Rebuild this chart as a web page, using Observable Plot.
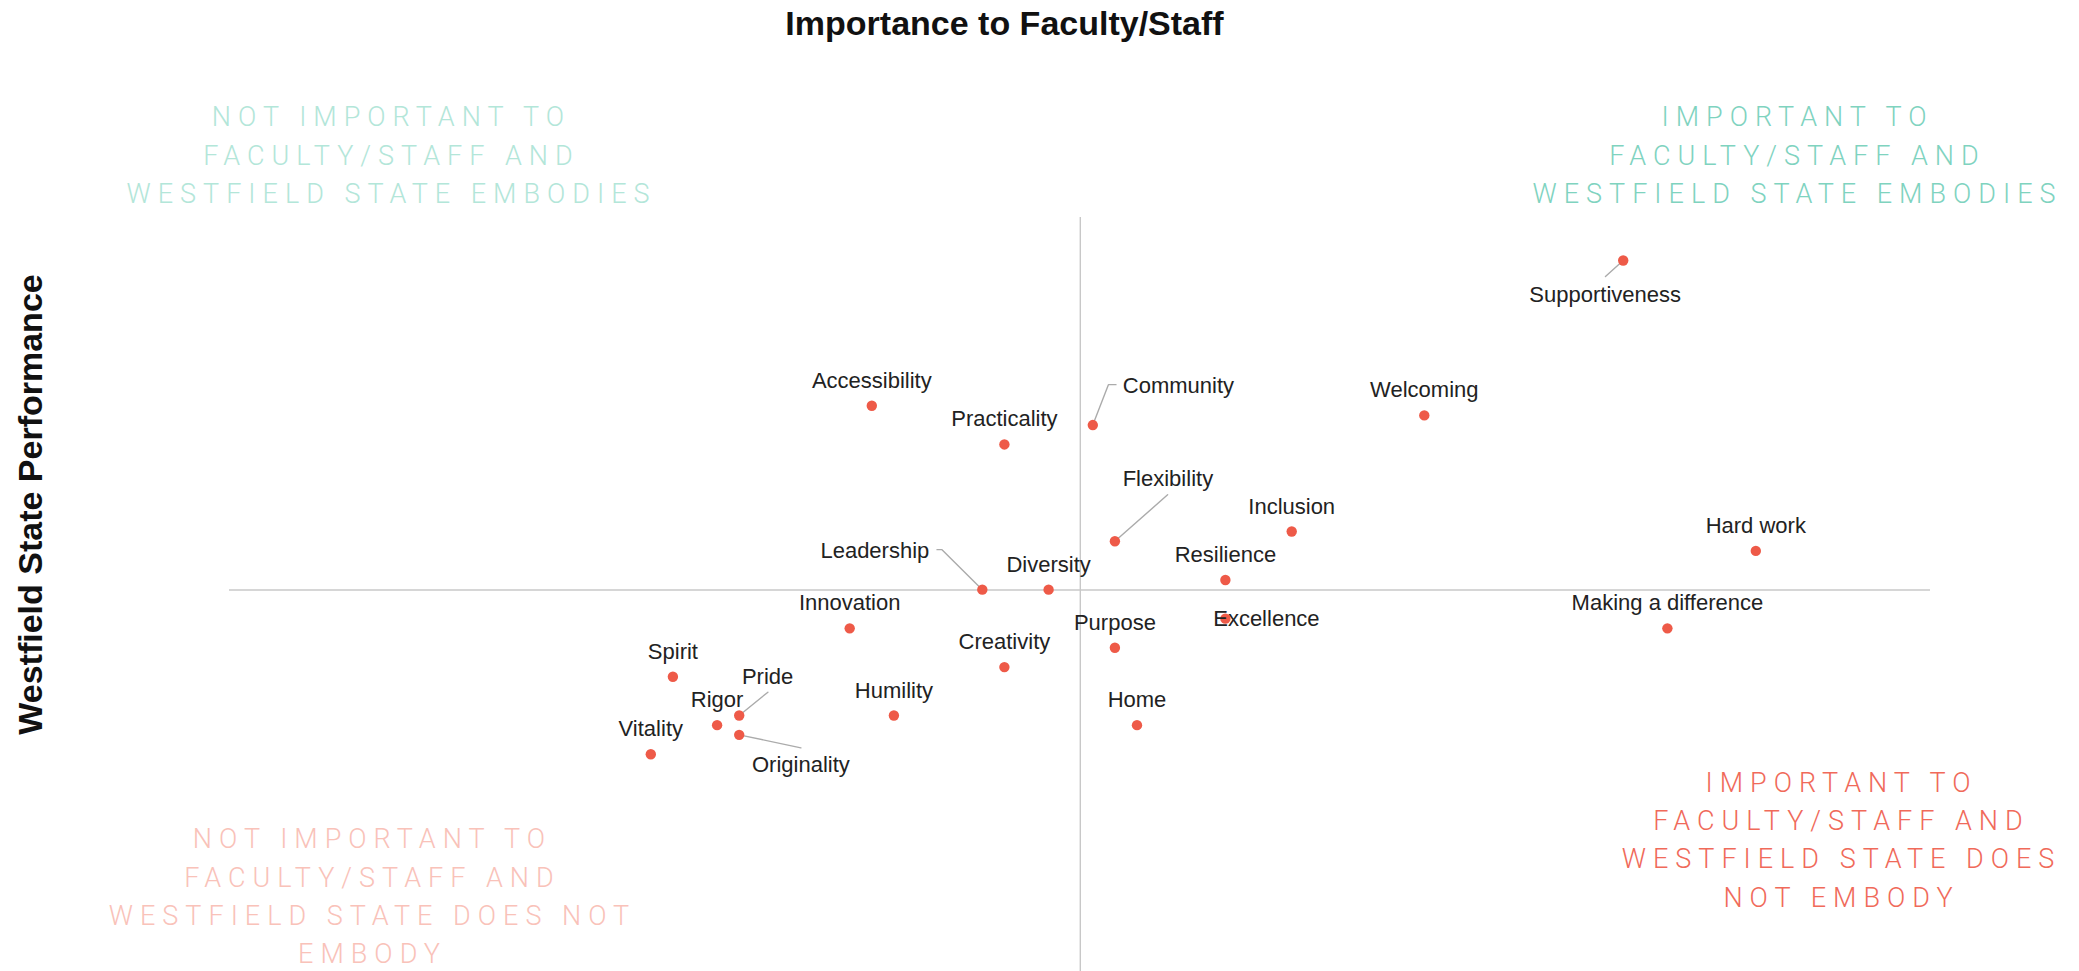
<!DOCTYPE html>
<html><head><meta charset="utf-8">
<script src="https://cdn.jsdelivr.net/npm/d3@7"></script>
<script src="https://cdn.jsdelivr.net/npm/@observablehq/plot@0.6"></script>
<style>
html,body{margin:0;padding:0;background:#fff;}
g[aria-description="quadrant"] text{letter-spacing:7px;}
</style></head><body><div id="chart"></div>
<script>
// ---- data ----
const values = ["Supportiveness","Accessibility","Community","Welcoming","Practicality","Flexibility","Inclusion","Hard work","Leadership","Diversity","Resilience","Innovation","Excellence","Making a difference","Purpose","Creativity","Spirit","Pride","Humility","Rigor","Home","Originality","Vitality"];
const importance = [46,12,22,37,18,23,31,52,17,20,28,11,28,48,23,18,3,6,13,5,24,6,2];
const performance = [61,46,44,45,42,32,33,31,27,27,28,23,24,23,21,19,18,14,14,13,13,12,10];
const quadrantTexts = [
  "NOT IMPORTANT TO\nFACULTY/STAFF AND\nWESTFIELD STATE EMBODIES",
  "IMPORTANT TO\nFACULTY/STAFF AND\nWESTFIELD STATE EMBODIES",
  "NOT IMPORTANT TO\nFACULTY/STAFF AND\nWESTFIELD STATE DOES NOT\nEMBODY",
  "IMPORTANT TO\nFACULTY/STAFF AND\nWESTFIELD STATE DOES\nNOT EMBODY"
];
const xTitle = "Importance to Faculty/Staff";
const yTitle = "Westfield State Performance";

// ---- layout (pixels) ----
const W = 2079, H = 971;
const X_DOMAIN = [2, 52], X_RANGE = [650.3, 1755.3];
const Y_DOMAIN = [10, 61], Y_RANGE = [753.7, 260.0];
const kx = (X_DOMAIN[1]-X_DOMAIN[0])/(X_RANGE[1]-X_RANGE[0]);
const ky = (Y_DOMAIN[1]-Y_DOMAIN[0])/(Y_RANGE[1]-Y_RANGE[0]);
// label offsets from dot [dx, dy, anchor]
const labelLayout = {
  "Supportiveness": [-18, 34, "middle"],
  "Community": [30, -38.7, "start"],
  "Flexibility": [53, -62, "middle"],
  "Leadership": [-53, -38.6, "end"],
  "Pride": [28.4, -39, "middle"],
  "Originality": [61.7, 29.7, "middle"],
  "Excellence": [41, 0, "middle"]
};
const defaultLabel = [0, -25, "middle"];
const leaderLayout = {
  "Supportiveness": [[-17.75, 16]],
  "Community": [[15.6, -40.4], [23.2, -40.4]],
  "Flexibility": [[52.7, -46.4]],
  "Leadership": [[-40.3, -40], [-45.3, -40]],
  "Pride": [[28.7, -23.3]],
  "Originality": [[61.7, 13]]
};

const pts = values.map((v, i) => ({name: v, x: importance[i], y: performance[i]}));
const labels = pts.map(p => {
  const [dx, dy, anchor] = labelLayout[p.name] || defaultLabel;
  return {name: p.name, x: p.x + dx*kx, y: p.y + dy*ky, anchor};
});
const leaders = [];
for (const p of pts) {
  const L = leaderLayout[p.name];
  if (!L) continue;
  leaders.push({name: p.name, x: p.x, y: p.y});
  for (const [dx, dy] of L) leaders.push({name: p.name, x: p.x + dx*kx, y: p.y + dy*ky});
}
const mx = d3.mean(importance), my = d3.mean(performance);

const quadStyle = {fontFamily: "Roboto, 'Liberation Sans', sans-serif", fontWeight: 300, fontSize: 27, lineHeight: 1.42, textAnchor: "middle", lineAnchor: "middle", ariaDescription: "quadrant"};

const chart = Plot.plot({
  width: W, height: H,
  marginTop: 217, marginBottom: 0, marginLeft: 229, marginRight: 149,
  x: {domain: X_DOMAIN, range: X_RANGE, axis: null},
  y: {domain: Y_DOMAIN, range: Y_RANGE, axis: null},
  style: {fontFamily: "'Liberation Sans', Arial, sans-serif", background: "#fff", overflow: "visible"},
  marks: [
    Plot.ruleX([mx], {stroke: "#c8c8c8", strokeWidth: 1.4}),
    Plot.ruleY([my], {stroke: "#c8c8c8", strokeWidth: 1.4}),
    Plot.line(leaders, {x: "x", y: "y", z: "name", stroke: "#ababab", strokeWidth: 1.4}),
    Plot.dot(pts, {x: "x", y: "y", r: 5.2, fill: "#ee5a48", stroke: "none"}),
    Plot.text(labels.filter(d => d.anchor === "middle"), {x: "x", y: "y", text: "name", textAnchor: "middle", fontSize: 22, fill: "#222"}),
    Plot.text(labels.filter(d => d.anchor === "start"), {x: "x", y: "y", text: "name", textAnchor: "start", fontSize: 22, fill: "#222"}),
    Plot.text(labels.filter(d => d.anchor === "end"), {x: "x", y: "y", text: "name", textAnchor: "end", fontSize: 22, fill: "#222"}),
    Plot.text([quadrantTexts[0]], {...quadStyle, frameAnchor: "top-left", dx: 162, dy: -65, fill: "#b3e6d9"}),
    Plot.text([quadrantTexts[1]], {...quadStyle, frameAnchor: "top-right", dx: -133, dy: -65, fill: "#7fd3bf"}),
    Plot.text([quadrantTexts[2]], {...quadStyle, frameAnchor: "bottom-left", dx: 143, dy: -78, fill: "#f9c2b9"}),
    Plot.text([quadrantTexts[3]], {...quadStyle, frameAnchor: "bottom-right", dx: -89, dy: -134.5, fill: "#f06a5a"}),
    Plot.text([xTitle], {frameAnchor: "top", textAnchor: "middle", lineAnchor: "middle", dx: -75.5, dy: -193, fontSize: 34, fontWeight: "bold", fill: "#111"}),
    Plot.text([yTitle], {frameAnchor: "left", textAnchor: "middle", lineAnchor: "middle", dx: -198, dy: -90, rotate: -90, fontSize: 34, fontWeight: "bold", fill: "#111"})
  ]
});
document.getElementById("chart").appendChild(chart);
</script></body></html>
